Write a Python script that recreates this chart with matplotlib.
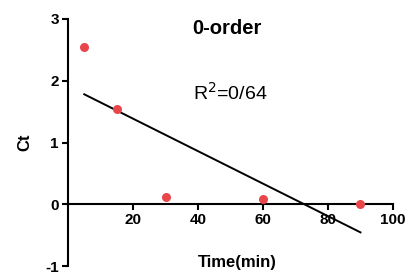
import numpy as np
import matplotlib
matplotlib.use("Agg")
import matplotlib.pyplot as plt

plt.rcParams['font.family'] = ['Liberation Sans', 'DejaVu Sans']
plt.rcParams['axes.unicode_minus'] = False

# data
time_min = [5, 15, 30, 60, 90]
ct = [2.55, 1.55, 0.12, 0.08, 0.0]
x_ticks = [20, 40, 60, 80, 100]
y_ticks = [-1, 0, 1, 2, 3]

# linear (zero-order) fit
slope, intercept = np.polyfit(time_min, ct, 1)
fit_x = np.array([time_min[0], time_min[-1]])
fit_y = slope * fit_x + intercept

fig = plt.figure(figsize=(4.08, 2.79), dpi=100)
ax = fig.add_axes([68 / 408, 13 / 279, 325 / 408, 247 / 279])

ax.plot(fit_x, fit_y, color='black', lw=1.4, zorder=2)
ax.plot(time_min, ct, 'o', color='#e8464b', ms=6.5, mec='none', zorder=3, clip_on=False)

ax.set_xlim(0, 100)
ax.set_ylim(-1, 3)
ax.set_xticks(x_ticks)
ax.set_yticks(y_ticks)

for s in ['top', 'right']:
    ax.spines[s].set_visible(False)
ax.spines['bottom'].set_position(('data', 0))
for s in ['left', 'bottom']:
    ax.spines[s].set_linewidth(1.5)
ax.tick_params(width=1.5, length=4.5, labelsize=11, pad=2)
for lbl in ax.get_xticklabels() + ax.get_yticklabels():
    lbl.set_fontweight('bold')

ax.set_xlabel('Time(min)', fontsize=12, fontweight='bold')
ax.xaxis.set_label_coords(0.52, 0.015)
ax.xaxis.label.set_va('center')
ax.set_ylabel('Ct', fontsize=12, fontweight='bold')
ax.yaxis.set_label_coords(-0.11, 0.5)

ax.text(38.2, 2.85, '0-order', fontsize=14.5, fontweight='bold', va='center', ha='left')
ax.text(38.4, 1.8, 'R$^2$=0/64', fontsize=14, va='center', ha='left')

fig.savefig('out.png', dpi=100)
